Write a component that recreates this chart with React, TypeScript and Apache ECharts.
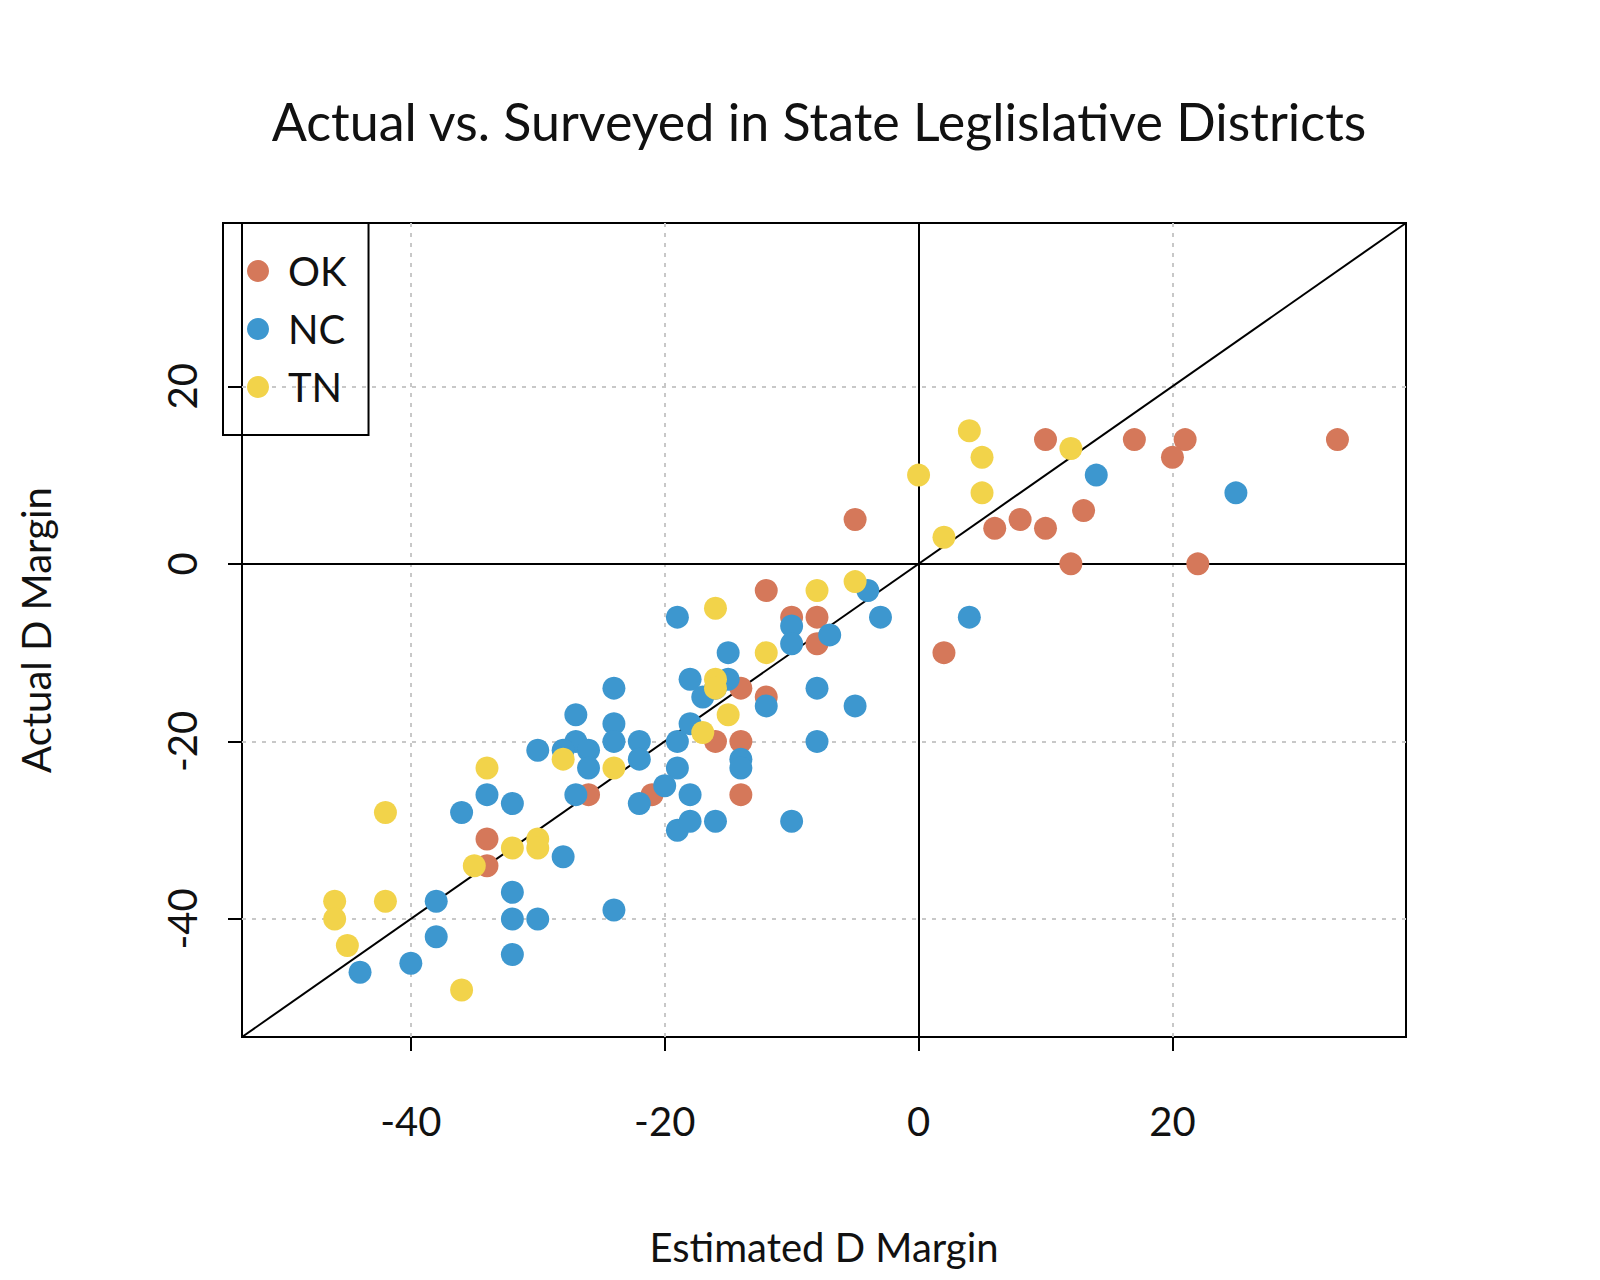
import React, { useEffect, useRef } from 'react';
import * as echarts from 'echarts';

const okPoints: [number, number][] = [
  [33, 14], [21, 14], [20, 12], [17, 14], [10, 14], [13, 6], [8, 5], [10, 4], [6, 4], [12, 0], [22, 0],
  [-5, 5], [2, -10], [-12, -3], [-10, -6], [-8, -6], [-8, -9], [-14, -14], [-12, -15], [-16, -20],
  [-14, -20], [-14, -26], [-21, -26], [-26, -26], [-34, -31], [-34, -34],
];
const ncPoints: [number, number][] = [
  [25, 8], [14, 10], [4, -6], [-4, -3], [-3, -6], [-7, -8], [-10, -7], [-10, -9], [-8, -14], [-5, -16],
  [-8, -20], [-10, -29], [-19, -6], [-15, -10], [-18, -13], [-15, -13], [-17, -15], [-16, -14], [-12, -16],
  [-18, -18], [-19, -20], [-14, -22], [-14, -23], [-19, -23], [-18, -26], [-20, -25], [-22, -20], [-22, -22],
  [-22, -27], [-19, -30], [-18, -29], [-16, -29], [-24, -14], [-24, -18], [-24, -20], [-27, -17], [-27, -20],
  [-26, -21], [-26, -23], [-30, -21], [-28, -21], [-27, -26], [-28, -33], [-24, -39], [-32, -27], [-34, -26],
  [-36, -28], [-32, -37], [-32, -40], [-30, -40], [-32, -44], [-38, -38], [-38, -42], [-40, -45], [-44, -46],
];
const tnPoints: [number, number][] = [
  [4, 15], [5, 12], [5, 8], [0, 10], [12, 13], [2, 3], [-5, -2], [-8, -3], [-12, -10], [-16, -5],
  [-16, -13], [-16, -14], [-15, -17], [-17, -19], [-24, -23], [-28, -22], [-34, -23], [-30, -31],
  [-30, -32], [-32, -32], [-35, -34], [-42, -28], [-42, -38], [-46, -38], [-46, -40], [-45, -43], [-36, -48],
];
const tickValues = [-40, -20, 0, 20];
const gridValues = [-40, -20, 20];
const axisMin = -53.3;
const axisMax = 38.4;

const FONT = 'Lato, "Open Sans", sans-serif';

export default function App() {
  const ref = useRef<HTMLDivElement>(null);

  useEffect(() => {
    if (!ref.current) return;
    const chart = echarts.init(ref.current, null, { renderer: 'svg' });
    const dash = { type: [4, 6] as any, color: '#c8c8c8', width: 2 };
    const solid = { type: 'solid' as const, color: '#000', width: 2 };
    const axisCommon = {
      type: 'value' as const,
      min: axisMin,
      max: axisMax,
      splitLine: { show: false },
      axisLine: { show: true, onZero: false, lineStyle: { color: '#000', width: 2 } },
      axisTick: { show: true, length: 14, customValues: tickValues, lineStyle: { color: '#000', width: 2 } },
      nameLocation: 'middle' as const,
      nameTextStyle: { fontSize: 40, color: '#111', fontFamily: FONT },
    };
    chart.setOption({
      animation: false,
      backgroundColor: '#fff',
      title: {
        text: 'Actual vs. Surveyed in State Leglislative Districts',
        left: 806, textAlign: 'center', top: 82,
        textStyle: { fontSize: 52, fontWeight: 'normal', color: '#111', fontFamily: FONT },
      },
      grid: { left: 215, top: 215, width: 1183, height: 860, show: true, borderColor: '#000', borderWidth: 2, backgroundColor: 'transparent' },
      xAxis: {
        ...axisCommon,
        name: 'Estimated D Margin', nameGap: 190,
        axisLabel: { customValues: tickValues, fontSize: 40, color: '#111', margin: 64, fontFamily: FONT },
      },
      yAxis: {
        ...axisCommon,
        name: 'Actual D Margin', nameGap: 186,
        axisLabel: { customValues: tickValues, fontSize: 40, color: '#111', margin: 60, rotate: 90, fontFamily: FONT, align: 'center', verticalAlign: 'middle' },
      },
      legend: {
        orient: 'vertical', left: 215, top: 215, width: 117,
        borderColor: '#000', borderWidth: 2, padding: [28, 22, 28, 24], itemGap: 18,
        icon: 'circle', itemWidth: 22, itemHeight: 22,
        textStyle: { fontSize: 40, color: '#111', fontFamily: FONT, padding: [0, 0, 0, 14] },
        data: ['OK', 'NC', 'TN'],
      },
      series: [
        {
          type: 'scatter', name: 'lines', data: [], silent: true, z: 1,
          markLine: {
            symbol: 'none', silent: true, label: { show: false }, z: 1,
            data: [
              ...gridValues.map((v) => ({ xAxis: v, lineStyle: dash })),
              ...gridValues.map((v) => ({ yAxis: v, lineStyle: dash })),
              { xAxis: 0, lineStyle: solid },
              { yAxis: 0, lineStyle: solid },
              [{ coord: [axisMin, axisMin], lineStyle: solid }, { coord: [axisMax, axisMax] }],
            ],
          },
        },
        { type: 'scatter', name: 'OK', z: 3, data: okPoints, symbolSize: 23, itemStyle: { color: '#D5785A', opacity: 1 } },
        { type: 'scatter', name: 'NC', z: 3, data: ncPoints, symbolSize: 23, itemStyle: { color: '#3D97CF', opacity: 1 } },
        { type: 'scatter', name: 'TN', z: 3, data: tnPoints, symbolSize: 23, itemStyle: { color: '#F2D34A', opacity: 1 } },
      ],
    });
    return () => chart.dispose();
  }, []);

  return <div ref={ref} style={{ width: 1584, height: 1264 }} />;
}
